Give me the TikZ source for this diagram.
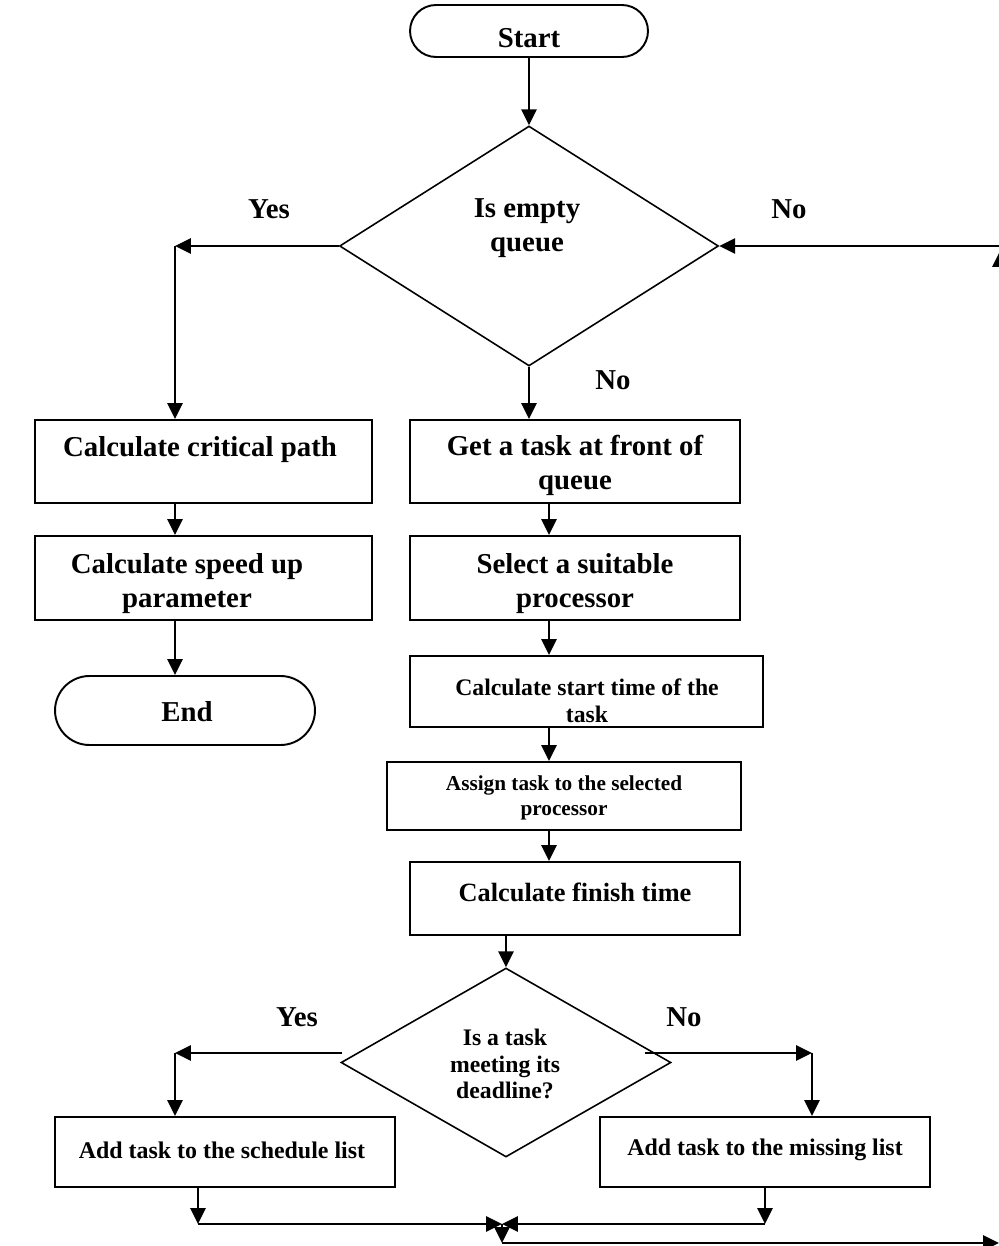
\documentclass[tikz,border=0pt]{standalone}
\usepackage{fontspec}
\setmainfont{Liberation Serif}
\usetikzlibrary{shapes.geometric,arrows.meta}
\begin{document}
\begin{tikzpicture}[x=0.02cm,y=-0.02cm,
  box/.style={draw, line width=1.1pt, inner sep=0pt},
  term/.style={box, rounded corners=#1},
  dia/.style={draw, diamond, line width=0.9pt, inner sep=0pt},
  txt/.style={align=center, inner sep=0pt, font=\bfseries\fontsize{16.4}{19.3}\selectfont},
  lbl/.style={inner sep=0pt, font=\bfseries\fontsize{16.4}{19.3}\selectfont},
  conn/.style={line width=1.4pt},
  arr/.style={conn, -{Triangle[length=9pt,width=8.5pt]}}]
\useasboundingbox (0,0) rectangle (999,1246);

% nodes
\node[term=0.52cm, minimum width=4.76cm, minimum height=1.04cm] (start) at (529,31) {};
\node[txt] (startt) at (529,38) {Start};
\node[dia, minimum width=7.58cm, minimum height=4.8cm] (d1) at (529,246) {};
\node[txt] (d1t) at (527,228) {Is empty\\queue};

\node[box, minimum width=6.74cm, minimum height=1.66cm] (ccp) at (203.5,461.5) {};
\node[txt] (ccpt) at (200,450) {Calculate critical path};
\node[box, minimum width=6.74cm, minimum height=1.68cm] (csp) at (203.5,578) {};
\node[txt] (cspt) at (187,584) {Calculate speed up\\parameter};
\node[term=0.69cm, minimum width=5.2cm, minimum height=1.38cm] (end) at (185,710.5) {};
\node[txt] (endt) at (187,712) {End};

\node[box, minimum width=6.6cm, minimum height=1.66cm] (gat) at (575,461.5) {};
\node[txt] (gatt) at (575,465) {Get a task at front of\\queue};
\node[box, minimum width=6.6cm, minimum height=1.68cm] (sel) at (575,578) {};
\node[txt] (selt) at (575,584) {Select a suitable\\processor};
\node[box, minimum width=7.06cm, minimum height=1.42cm] (cst) at (586.5,691.5) {};
\node[txt, font=\bfseries\fontsize{13.5}{15.3}\selectfont] (cstt) at (587,701) {Calculate start time of the\\task};
\node[box, minimum width=7.08cm, minimum height=1.36cm] (asg) at (564,796) {};
\node[txt, font=\bfseries\fontsize{12.1}{14.2}\selectfont] (asgt) at (564,798) {Assign task to the selected\\processor};
\node[box, minimum width=6.6cm, minimum height=1.46cm] (cft) at (575,898.5) {};
\node[txt, font=\bfseries\fontsize{15}{17}\selectfont] (cftt) at (575,892) {Calculate finish time};

\node[dia, minimum width=6.6cm, minimum height=3.78cm] (d2) at (506,1062.5) {};
\node[txt, font=\bfseries\fontsize{13.5}{15.3}\selectfont] (d2t) at (505,1064) {Is a task\\meeting its\\deadline?};

\node[box, minimum width=6.8cm, minimum height=1.4cm] (asl) at (225,1152) {};
\node[txt, font=\bfseries\fontsize{13.6}{15.5}\selectfont] (aslt) at (222,1150) {Add task to the schedule list};
\node[box, minimum width=6.6cm, minimum height=1.4cm] (aml) at (765,1152) {};
\node[txt, font=\bfseries\fontsize{13.6}{15.5}\selectfont] (amlt) at (765,1150) {Add task to the missing list};

% labels
\node[lbl] (yes1) at (269,209) {Yes};
\node[lbl] (no1) at (789,209) {No};
\node[lbl] (no2) at (613,380) {No};
\node[lbl] (yes2) at (297,1017) {Yes};
\node[lbl] (no3) at (684,1017) {No};

% helper coordinates
\coordinate (cL) at (175,0);
\coordinate (cM) at (549,0);
\coordinate (y2) at (175,1053);
\coordinate (y2s) at (342,1053);
\coordinate (n2s) at (645,1053);
\coordinate (n2) at (812,1053);
\coordinate (bl) at (198,1224);
\coordinate (br) at (765,1224);
\coordinate (bm) at (502,1224);
\coordinate (bb) at (502,1243);
\coordinate (be) at (999,1243);
\coordinate (rb) at (1000,1243);
\coordinate (rt) at (1000,246);

% connectors
\draw[arr] (start.south) -- (d1.north);
\draw[arr] (d1.west) -- (d1.west -| cL) coordinate (y1);
\draw[arr] (y1) -- (ccp.north -| y1);
\draw[arr] (d1.south) -- (gat.north -| d1.south);
\draw[arr] (ccp.south -| cL) -- (csp.north -| cL);
\draw[arr] (csp.south -| cL) -- (end.north -| cL);
\draw[arr] (gat.south -| cM) -- (sel.north -| cM);
\draw[arr] (sel.south -| cM) -- (cst.north -| cM);
\draw[arr] (cst.south -| cM) -- (asg.north -| cM);
\draw[arr] (asg.south -| cM) -- (cft.north -| cM);
\draw[arr] (cft.south -| d2.north) -- (d2.north);
\draw[arr] (y2s) -- (y2);
\draw[arr] (y2) -- (asl.north -| y2);
\draw[arr] (n2s) -- (n2);
\draw[arr] (n2) -- (aml.north -| n2);
\draw[arr] (asl.south -| bl) -- (bl);
\draw[arr] (bl) -- (bm);
\draw[arr] (aml.south -| br) -- (br);
\draw[arr] (br) -- (bm);
\draw[arr] (bm) -- (bb);
\draw[arr] (bb) -- (be);
\draw[arr] (rb) -- ([yshift=-0.1cm]rt);
\draw[arr] (rt) -- (d1.east);
\end{tikzpicture}
\end{document}
